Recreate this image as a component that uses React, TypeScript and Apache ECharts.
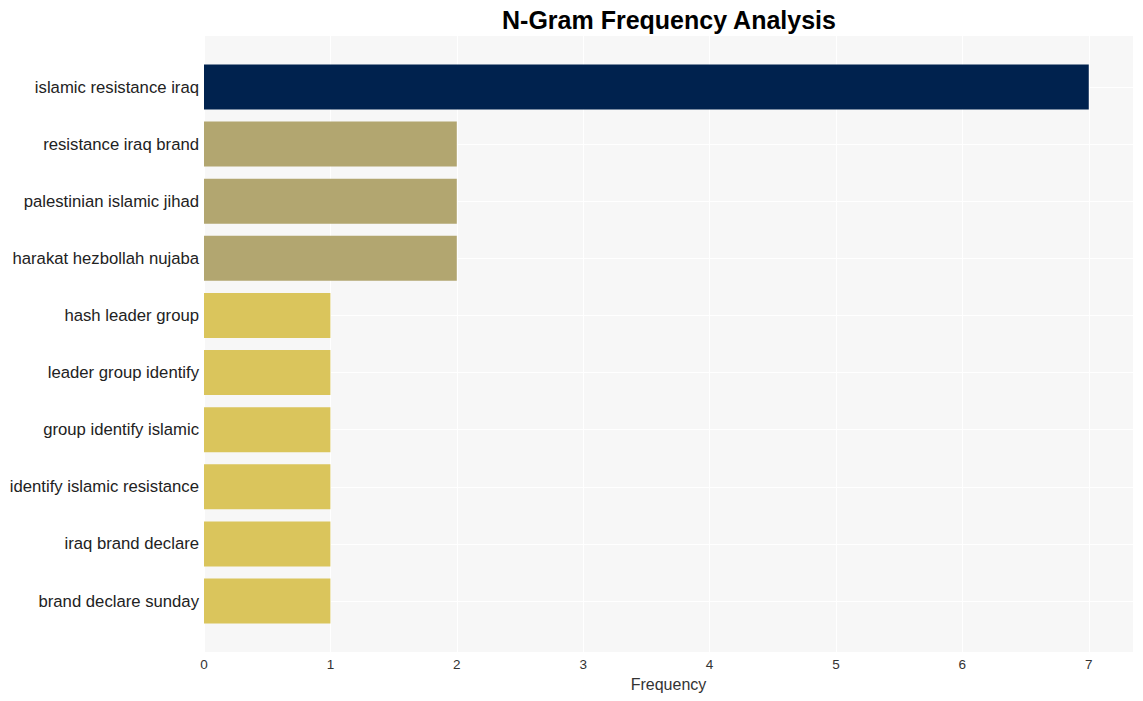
import React, { useEffect, useRef } from "react";
import * as echarts from "echarts";

const categories = [
  "islamic resistance iraq",
  "resistance iraq brand",
  "palestinian islamic jihad",
  "harakat hezbollah nujaba",
  "hash leader group",
  "leader group identify",
  "group identify islamic",
  "identify islamic resistance",
  "iraq brand declare",
  "brand declare sunday",
];
const values = [7, 2, 2, 2, 1, 1, 1, 1, 1, 1];
const colors = [
  "#00224e",
  "#b2a670",
  "#b2a670",
  "#b2a670",
  "#dac55c",
  "#dac55c",
  "#dac55c",
  "#dac55c",
  "#dac55c",
  "#dac55c",
];
const xTicks = [0, 1, 2, 3, 4, 5, 6, 7];
const xMax = 7.35;

const FONT = "'Liberation Sans', Arial, sans-serif";

export default function App() {
  const ref = useRef<HTMLDivElement>(null);
  useEffect(() => {
    if (!ref.current) return;
    const chart = echarts.init(ref.current, null, { renderer: "svg" });
    chart.setOption({
      animation: false,
      backgroundColor: "#ffffff",
      title: {
        text: "N-Gram Frequency Analysis",
        left: 497,
        top: 2,
        textStyle: { fontFamily: FONT, fontSize: 25, fontWeight: "bold", color: "#000" },
      },
      grid: [
        { left: 204, top: 87, width: 929, height: 514, containLabel: false },
        {
          left: 204,
          top: 36,
          width: 929,
          height: 616,
          show: true,
          backgroundColor: "#f7f7f7",
          borderWidth: 0,
          z: 0,
        },
      ],
      xAxis: [
        {
          type: "value",
          gridIndex: 0,
          min: 0,
          max: xMax,
          interval: 1,
          show: false,
          splitLine: { show: false },
        },
        {
          type: "value",
          gridIndex: 1,
          min: 0,
          max: xMax,
          interval: 1,
          axisLine: { show: false },
          axisTick: { show: false },
          splitLine: { show: true, lineStyle: { color: "#ffffff", width: 1 } },
          axisLabel: {
            margin: 5,
            fontFamily: FONT,
            fontSize: 13.5,
            color: "#333",
            formatter: (v: number) => (xTicks.includes(v) ? String(v) : ""),
          },
          name: "Frequency",
          nameLocation: "middle",
          nameGap: 24,
          nameTextStyle: { fontFamily: FONT, fontSize: 16, color: "#333" },
        },
      ],
      yAxis: [
        {
          type: "category",
          gridIndex: 0,
          data: categories,
          inverse: true,
          boundaryGap: false,
          axisLine: { show: false },
          axisTick: { show: false },
          splitLine: { show: true, lineStyle: { color: "#ffffff", width: 1 } },
          axisLabel: { margin: 5, fontFamily: FONT, fontSize: 16.7, color: "#222" },
        },
        {
          type: "value",
          gridIndex: 1,
          show: false,
          splitLine: { show: false },
        },
      ],
      series: [
        {
          type: "bar",
          xAxisIndex: 0,
          yAxisIndex: 0,
          barWidth: 45,
          data: values.map((v, i) => ({ value: v, itemStyle: { color: colors[i] } })),
          z: 3,
        },
      ],
    });
    return () => chart.dispose();
  }, []);
  return <div ref={ref} style={{ width: 1143, height: 701, margin: -8 }} />;
}
